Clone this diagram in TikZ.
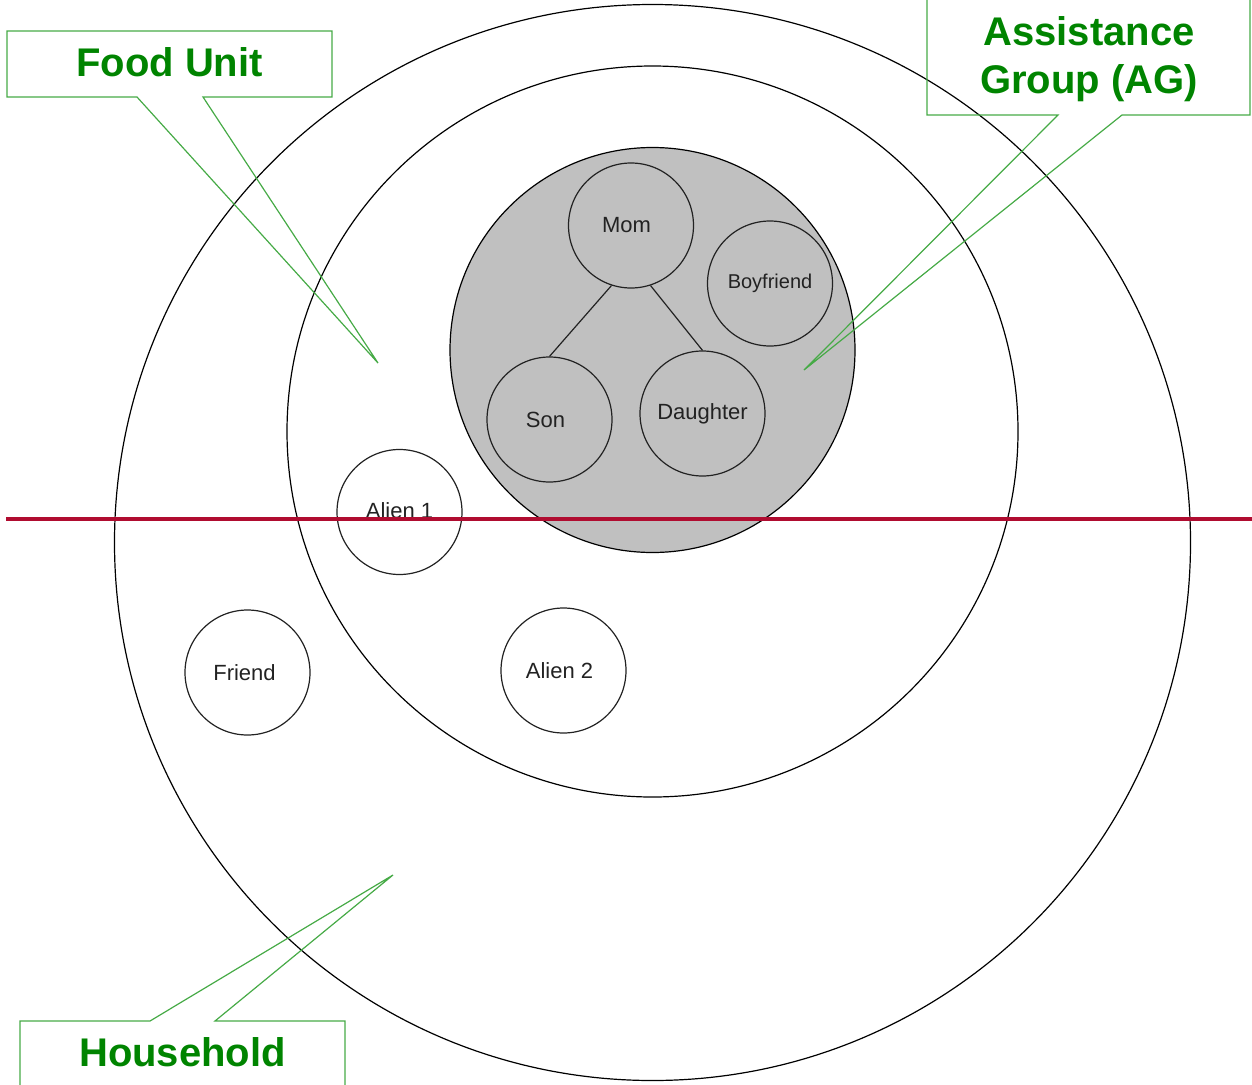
\documentclass[tikz,border=0pt]{standalone}
\usepackage{fontspec}
\setmainfont{Liberation Sans}
\usetikzlibrary{calc}
\definecolor{lblgreen}{RGB}{0,132,0}
\definecolor{boxgreen}{RGB}{70,170,70}
\definecolor{cutred}{RGB}{176,12,48}
\definecolor{agfill}{RGB}{192,192,192}
\definecolor{ink}{RGB}{34,34,34}
% nudges the label of a circle left by half of the given length
\newcommand{\leftby}[2]{\hspace*{-#1}#2}
\tikzset{
  ring/.style={circle, draw=black, line width=1.2pt, inner sep=0pt},
  person/.style={circle, draw=ink, line width=1.2pt, minimum size=125pt, inner sep=0pt,
    text=ink, font=\fontsize{22}{24}\selectfont},
  tie/.style={draw=ink, line width=1.2pt},
  callout/.style={draw=boxgreen, line width=1.2pt, line join=miter},
  calltext/.style={text=lblgreen, font=\fontsize{40}{48}\selectfont\bfseries, align=center, inner sep=0pt},
  cutline/.style={draw=cutred, line width=3.5pt}
}
\begin{document}
\begin{tikzpicture}[x=1pt,y=-1pt]
\useasboundingbox (0,0) rectangle (1252,1084);

% nested groups
\node[ring, minimum size=1076pt] (household) at (652.5,542.5) {};
\node[ring, minimum size=731pt] (foodunit) at (652.5,431.5) {};
\node[ring, minimum size=405pt, fill=agfill] (ag) at (652.5,350) {};

% people
\node[person] (mom) at (631,225.5) {\raisebox{-2pt}{\leftby{9pt}{Mom}}};
\node[person, font=\fontsize{20}{22}\selectfont] (boyfriend) at (770,283.5) {\raisebox{-2pt}{Boyfriend}};
\node[person] (son) at (549.5,419.5) {\leftby{8pt}{Son}};
\node[person] (daughter) at (702.5,413.5) {\raisebox{1pt}{Daughter}};
\node[person] (alien1) at (399.5,512) {\raisebox{3pt}{Alien 1}};
\node[person] (friend) at (247.5,672.5) {\leftby{6pt}{Friend}};
\node[person] (alien2) at (563.5,670.5) {\leftby{8pt}{Alien 2}};

\draw[tie] (mom.252) -- (son.north);
\draw[tie] (mom.288) -- (daughter.north);

% dividing line
\coordinate (cutL) at (6,519);
\coordinate (cutR) at (1252,519);
\draw[cutline] (cutL) -- (cutR);

% callout: Food Unit
\node[calltext] (fulabel) at (169.5,62) {Food Unit};
\coordinate (fuTip) at (378,363);
\draw[callout] (7,31) -- (332,31) -- (332,97) -- (203,97) -- (fuTip) -- (137,97) -- (7,97) -- cycle;

% callout: Assistance Group
\node[calltext] (aglabel) at (1089,59) {Assistance\\Group (AG)};
\coordinate (agTip) at (804,370);
\draw[callout] (927,-10) -- (927,115) -- (1058,115) -- (agTip) -- (1122,115) -- (1250,115) -- (1250,-10);

% callout: Household
\node[calltext] (hhlabel) at (182.5,1052) {Household};
\coordinate (hhTip) at (393,875);
\draw[callout] (20,1095) -- (20,1021) -- (150,1021) -- (hhTip) -- (215,1021) -- (345,1021) -- (345,1095);
\end{tikzpicture}
\end{document}
